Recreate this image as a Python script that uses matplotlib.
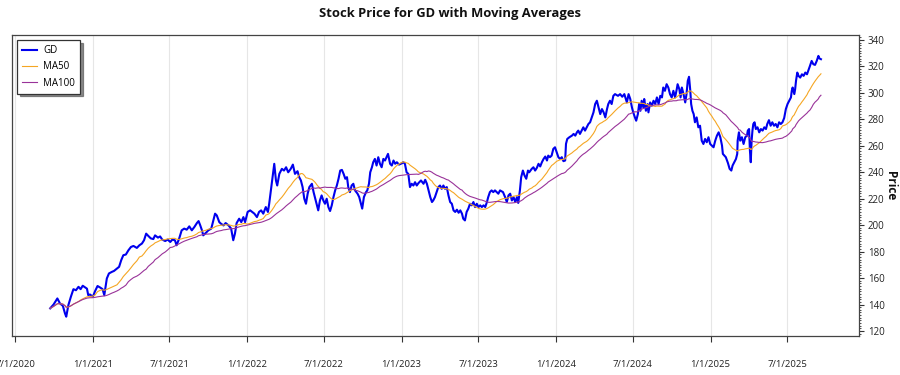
import matplotlib
matplotlib.use("Agg")
import matplotlib.pyplot as plt
from matplotlib import font_manager
from matplotlib.ticker import MultipleLocator
import pandas as pd

dates = [
    "2020-09-22", "2020-09-30", "2020-10-09", "2020-10-15", "2020-10-22", "2020-10-27", "2020-10-30",
    "2020-11-04", "2020-11-10", "2020-11-16", "2020-11-22", "2020-11-28", "2020-12-03", "2020-12-08",
    "2020-12-14", "2020-12-18", "2020-12-21", "2020-12-25", "2021-01-01", "2021-01-06", "2021-01-12",
    "2021-01-18", "2021-01-24", "2021-01-28", "2021-02-03", "2021-02-08", "2021-02-15", "2021-02-20",
    "2021-02-27", "2021-03-04", "2021-03-09", "2021-03-14", "2021-03-20", "2021-03-26", "2021-04-01",
    "2021-04-07", "2021-04-15", "2021-04-21", "2021-04-27", "2021-05-02", "2021-05-07", "2021-05-12",
    "2021-05-18", "2021-05-24", "2021-05-28", "2021-06-04", "2021-06-09", "2021-06-14", "2021-06-21",
    "2021-06-27", "2021-07-03", "2021-07-08", "2021-07-14", "2021-07-18", "2021-07-24", "2021-07-30",
    "2021-08-05", "2021-08-11", "2021-08-17", "2021-08-23", "2021-08-29", "2021-09-04", "2021-09-08",
    "2021-09-12", "2021-09-16", "2021-09-19", "2021-09-25", "2021-10-01", "2021-10-08", "2021-10-13",
    "2021-10-17", "2021-10-21", "2021-10-27", "2021-10-31", "2021-11-06", "2021-11-11", "2021-11-18",
    "2021-11-24", "2021-11-29", "2021-12-03", "2021-12-07", "2021-12-13", "2021-12-18", "2021-12-23",
    "2021-12-27", "2022-01-02", "2022-01-08", "2022-01-13", "2022-01-18", "2022-01-24", "2022-01-29",
    "2022-02-03", "2022-02-08", "2022-02-14", "2022-02-19", "2022-02-22", "2022-02-28", "2022-03-06",
    "2022-03-10", "2022-03-13", "2022-03-18", "2022-03-24", "2022-03-29", "2022-04-03", "2022-04-08",
    "2022-04-14", "2022-04-19", "2022-04-24", "2022-04-30", "2022-05-04", "2022-05-08", "2022-05-12",
    "2022-05-16", "2022-05-20", "2022-05-24", "2022-05-28", "2022-06-03", "2022-06-07", "2022-06-11",
    "2022-06-15", "2022-06-18", "2022-06-22", "2022-06-26", "2022-06-30", "2022-07-04", "2022-07-08",
    "2022-07-12", "2022-07-16", "2022-07-20", "2022-07-24", "2022-07-28", "2022-08-01", "2022-08-05",
    "2022-08-09", "2022-08-13", "2022-08-17", "2022-08-21", "2022-08-25", "2022-08-28", "2022-09-01",
    "2022-09-05", "2022-09-09", "2022-09-13", "2022-09-19", "2022-09-23", "2022-09-27", "2022-09-30",
    "2022-10-04", "2022-10-09", "2022-10-12", "2022-10-16", "2022-10-19", "2022-10-23", "2022-10-26",
    "2022-10-30", "2022-11-03", "2022-11-07", "2022-11-11", "2022-11-15", "2022-11-19", "2022-11-23",
    "2022-11-30", "2022-12-05", "2022-12-09", "2022-12-13", "2022-12-17", "2022-12-21", "2022-12-26",
    "2023-01-02", "2023-01-05", "2023-01-09", "2023-01-13", "2023-01-17", "2023-01-21", "2023-01-25",
    "2023-01-29", "2023-02-02", "2023-02-06", "2023-02-10", "2023-02-16", "2023-02-22", "2023-02-26",
    "2023-03-02", "2023-03-06", "2023-03-10", "2023-03-14", "2023-03-17", "2023-03-21", "2023-03-25",
    "2023-03-29", "2023-04-02", "2023-04-06", "2023-04-10", "2023-04-14", "2023-04-18", "2023-04-22",
    "2023-04-26", "2023-04-30", "2023-05-04", "2023-05-08", "2023-05-12", "2023-05-16", "2023-05-20",
    "2023-05-24", "2023-05-27", "2023-05-31", "2023-06-04", "2023-06-08", "2023-06-12", "2023-06-16",
    "2023-06-20", "2023-06-24", "2023-06-28", "2023-07-02", "2023-07-06", "2023-07-10", "2023-07-14",
    "2023-07-18", "2023-07-22", "2023-07-25", "2023-07-29", "2023-08-02", "2023-08-06", "2023-08-10",
    "2023-08-14", "2023-08-18", "2023-08-22", "2023-08-29", "2023-09-03", "2023-09-07", "2023-09-11",
    "2023-09-15", "2023-09-19", "2023-09-23", "2023-09-27", "2023-10-01", "2023-10-04", "2023-10-08",
    "2023-10-11", "2023-10-15", "2023-10-19", "2023-10-23", "2023-10-27", "2023-10-30", "2023-11-05",
    "2023-11-09", "2023-11-13", "2023-11-17", "2023-11-21", "2023-11-25", "2023-11-29", "2023-12-03",
    "2023-12-07", "2023-12-11", "2023-12-14", "2023-12-18", "2023-12-22", "2023-12-26", "2023-12-30",
    "2024-01-03", "2024-01-07", "2024-01-11", "2024-01-15", "2024-01-19", "2024-01-23", "2024-01-25",
    "2024-01-28", "2024-02-02", "2024-02-08", "2024-02-12", "2024-02-16", "2024-02-20", "2024-02-23",
    "2024-02-27", "2024-03-02", "2024-03-06", "2024-03-10", "2024-03-14", "2024-03-18", "2024-03-22",
    "2024-03-26", "2024-03-30", "2024-04-03", "2024-04-07", "2024-04-11", "2024-04-15", "2024-04-19",
    "2024-04-23", "2024-04-27", "2024-05-01", "2024-05-04", "2024-05-08", "2024-05-12", "2024-05-16",
    "2024-05-20", "2024-05-27", "2024-06-01", "2024-06-06", "2024-06-11", "2024-06-17", "2024-06-21",
    "2024-06-25", "2024-06-29", "2024-07-02", "2024-07-06", "2024-07-09", "2024-07-13", "2024-07-16",
    "2024-07-19", "2024-07-22", "2024-07-26", "2024-07-28", "2024-08-01", "2024-08-05", "2024-08-07",
    "2024-08-11", "2024-08-15", "2024-08-19", "2024-08-23", "2024-08-27", "2024-08-31", "2024-09-04",
    "2024-09-08", "2024-09-11", "2024-09-15", "2024-09-19", "2024-09-23", "2024-09-27", "2024-10-01",
    "2024-10-05", "2024-10-09", "2024-10-13", "2024-10-15", "2024-10-19", "2024-10-22", "2024-10-25",
    "2024-10-29", "2024-11-02", "2024-11-05", "2024-11-08", "2024-11-11", "2024-11-14", "2024-11-16",
    "2024-11-19", "2024-11-22", "2024-11-25", "2024-11-29", "2024-12-03", "2024-12-07", "2024-12-11",
    "2024-12-15", "2024-12-19", "2024-12-23", "2024-12-27", "2024-12-31", "2025-01-04", "2025-01-08",
    "2025-01-12", "2025-01-16", "2025-01-20", "2025-01-24", "2025-01-28", "2025-01-30", "2025-02-06",
    "2025-02-11", "2025-02-15", "2025-02-19", "2025-02-22", "2025-02-26", "2025-03-02", "2025-03-05",
    "2025-03-06", "2025-03-09", "2025-03-12", "2025-03-16", "2025-03-20", "2025-03-24", "2025-03-28",
    "2025-03-30", "2025-04-02", "2025-04-04", "2025-04-06", "2025-04-08", "2025-04-10", "2025-04-12",
    "2025-04-15", "2025-04-18", "2025-04-22", "2025-04-26", "2025-04-30", "2025-05-04", "2025-05-08",
    "2025-05-12", "2025-05-15", "2025-05-19", "2025-05-23", "2025-05-27", "2025-05-31", "2025-06-04",
    "2025-06-08", "2025-06-12", "2025-06-16", "2025-06-20", "2025-06-24", "2025-06-28", "2025-07-02",
    "2025-07-06", "2025-07-10", "2025-07-12", "2025-07-14", "2025-07-18", "2025-07-20", "2025-07-22",
    "2025-07-25", "2025-07-28", "2025-08-01", "2025-08-05", "2025-08-09", "2025-08-13", "2025-08-17",
    "2025-08-20", "2025-08-24", "2025-08-28", "2025-09-01", "2025-09-05", "2025-09-09", "2025-09-13",
    "2025-09-15", "2025-09-19",
]

prices = [
    137.1, 140.0, 144.6, 140.9, 139.0, 133.3, 130.8,
    139.5, 145.9, 151.6, 150.8, 153.4, 151.6, 154.2,
    152.9, 152.0, 147.1, 147.6, 145.9, 150.0, 154.0,
    152.9, 151.6, 147.1, 159.7, 163.5, 164.7, 165.4,
    167.2, 168.5, 173.5, 177.3, 177.8, 181.0, 183.5,
    184.3, 182.8, 184.8, 186.1, 188.6, 193.6, 191.9,
    190.0, 189.5, 192.3, 190.6, 191.5, 189.1, 188.0,
    189.1, 187.3, 189.1, 188.6, 184.8, 189.8, 196.1,
    197.4, 196.6, 199.1, 196.1, 198.6, 201.6, 203.1,
    199.8, 196.1, 192.3, 194.1, 196.1, 197.4, 203.6,
    208.7, 207.4, 202.3, 201.1, 199.8, 201.6, 199.8,
    197.4, 188.6, 193.6, 201.6, 204.9, 202.3, 206.1,
    202.3, 210.0, 211.2, 210.0, 208.7, 206.1, 210.0,
    211.2, 208.7, 213.7, 210.0, 216.2, 231.3, 246.4,
    233.8, 230.0, 238.8, 242.6, 241.3, 243.8, 240.0,
    242.6, 245.8, 238.8, 240.8, 236.3, 233.8, 228.8,
    220.0, 216.2, 223.8, 228.8, 231.3, 225.0, 220.0,
    215.0, 211.2, 218.7, 222.5, 218.7, 216.2, 220.0,
    213.7, 210.7, 215.0, 221.2, 226.3, 230.0, 235.1,
    241.3, 241.8, 238.8, 235.1, 236.3, 228.8, 225.0,
    230.0, 231.3, 226.3, 223.8, 221.2, 216.2, 212.5,
    221.2, 225.0, 226.3, 231.3, 240.0, 243.8, 247.6,
    250.1, 245.1, 251.4, 246.4, 243.8, 250.1, 248.9,
    253.9, 246.4, 245.1, 248.9, 246.4, 247.6, 245.8,
    246.8, 247.6, 246.4, 240.0, 238.8, 228.8, 231.3,
    230.0, 232.5, 230.0, 231.8, 233.8, 231.3, 234.3,
    231.3, 226.3, 221.2, 217.5, 218.7, 221.2, 225.0,
    228.8, 230.0, 227.5, 230.0, 227.5, 228.8, 222.5,
    217.5, 216.2, 211.2, 210.0, 211.7, 209.4, 211.2,
    208.7, 204.9, 203.6, 210.0, 212.5, 216.2, 215.0,
    217.5, 213.7, 216.2, 213.7, 215.0, 213.7, 215.0,
    213.7, 217.5, 221.2, 225.0, 226.3, 225.0, 226.3,
    225.0, 223.8, 226.3, 225.0, 221.2, 217.5, 222.5,
    223.8, 218.7, 221.2, 217.5, 221.2, 216.8, 226.3,
    236.3, 241.3, 237.5, 235.1, 241.3, 240.0, 242.6,
    243.8, 241.3, 243.3, 246.4, 244.4, 247.6, 250.1,
    251.9, 248.9, 252.6, 251.4, 252.6, 257.7, 258.9,
    255.1, 251.4, 250.1, 251.4, 248.4, 248.9, 261.5,
    265.2, 266.5, 267.7, 269.0, 267.7, 270.3, 271.5,
    269.0, 271.5, 274.0, 271.5, 274.0, 276.5, 277.8,
    281.5, 285.3, 291.6, 294.1, 289.1, 284.0, 287.8,
    285.3, 281.5, 287.8, 291.6, 294.1, 291.6, 297.8,
    299.1, 297.8, 299.1, 297.1, 299.1, 292.8, 299.1,
    295.4, 289.0, 285.3, 281.5, 279.0, 284.0, 291.6,
    286.5, 294.1, 289.0, 295.4, 286.5, 291.6, 285.3,
    292.8, 290.3, 294.1, 291.6, 296.6, 291.6, 297.8,
    296.6, 304.1, 301.6, 306.6, 304.1, 299.1, 296.6,
    301.6, 296.6, 302.9, 306.6, 302.9, 296.6, 304.1,
    299.1, 292.8, 299.1, 309.1, 312.2, 301.6, 291.6,
    286.5, 284.0, 277.8, 281.5, 274.0, 275.2, 263.9,
    261.4, 265.2, 262.7, 266.5, 261.4, 260.2, 258.9,
    263.9, 267.7, 270.2, 266.5, 260.2, 253.9, 251.4,
    247.0, 242.6, 241.3, 245.1, 247.6, 250.1, 253.9,
    263.9, 270.2, 263.9, 266.5, 261.4, 266.5, 267.7,
    271.5, 272.7, 256.5, 247.6, 263.9, 271.5, 276.5,
    277.8, 272.7, 274.0, 270.2, 272.7, 271.5, 274.0,
    272.7, 276.5, 279.4, 275.2, 277.8, 275.2, 276.5,
    274.0, 277.8, 276.5, 277.8, 281.0, 287.8, 291.6,
    294.1, 296.6, 301.6, 304.1, 299.1, 302.9, 309.1,
    315.4, 312.9, 311.6, 314.1, 312.9, 315.4, 314.1,
    316.7, 320.4, 324.2, 321.7, 321.2, 324.2, 328.0,
    326.2, 325.5,
]

ticker_name = "GD"
series_labels = ["GD", "MA50", "MA100"]
tick_dates = ["2020-07-01", "2021-01-01", "2021-07-01", "2022-01-01", "2022-07-01",
              "2023-01-01", "2023-07-01", "2024-01-01", "2024-07-01", "2025-01-01",
              "2025-07-01"]
tick_labels = ["7/1/2020", "1/1/2021", "7/1/2021", "1/1/2022", "7/1/2022", "1/1/2023",
               "7/1/2023", "1/1/2024", "7/1/2024", "1/1/2025", "7/1/2025"]

# moving averages (50 / 100 trading days ~ 72 / 145 calendar days)
s = pd.Series(prices, index=pd.to_datetime(dates))
ma50 = s.rolling("72D", min_periods=1).mean()
ma100 = s.rolling("145D", min_periods=1).mean()


def pick_font():
    for fam in ["Open Sans", "Noto Sans", "Lato", "Liberation Sans"]:
        try:
            path = font_manager.findfont(
                font_manager.FontProperties(family=fam, weight="bold"),
                fallback_to_default=False)
        except Exception:
            continue
        if "bold" in path.lower():
            return fam
    return "DejaVu Sans"


main_font = pick_font()
plt.rcParams["font.family"] = [main_font, "DejaVu Sans"]

fig = plt.figure(figsize=(9, 3.75), dpi=100)
ax = fig.add_axes([11.7 / 900, 1 - 336 / 375, (859 - 11.7) / 900, (336 - 35) / 375])

ax.plot(s.index, s.values, color="#0000EE", lw=1.5, label=series_labels[0], zorder=3)
ax.plot(ma50.index, ma50.values, color="#F5A623", lw=0.8, label=series_labels[1], zorder=4)
ax.plot(ma100.index, ma100.values, color="#993399", lw=0.8, label=series_labels[2], zorder=4)

ax.set_xlim(pd.Timestamp("2020-06-23"), pd.Timestamp("2025-12-18"))
ax.set_ylim(116.2, 343.8)

ax.set_xticks(pd.to_datetime(tick_dates))
ax.set_xticklabels(tick_labels)
ax.tick_params(axis="x", direction="out", length=4, width=0.8, color="#333333",
               labelsize=6.8, pad=13, labelcolor="#222222")
ax.grid(axis="x", color="#e6e6e6", lw=0.8, zorder=0)

ax.yaxis.tick_right()
ax.yaxis.set_major_locator(MultipleLocator(20))
ax.yaxis.set_minor_locator(MultipleLocator(2))
ax.tick_params(axis="y", which="major", direction="out", length=3.5, width=0.8,
               color="#333333", labelsize=7, pad=3, labelcolor="#222222")
ax.tick_params(axis="y", which="minor", direction="out", length=1.5, width=0.6,
               color="#333333")

for sp in ax.spines.values():
    sp.set_color("#444444")
    sp.set_linewidth(0.9)

fig.text(0.5, 1 - 14 / 375, "Stock Price for %s with Moving Averages" % ticker_name,
         ha="center", va="center", fontsize=9.4, fontweight="bold", color="#111111")
fig.text(890 / 900, 1 - 186 / 375, "Price", rotation=270, ha="center", va="center",
         fontsize=8.5, fontweight="bold", color="#111111")

leg = ax.legend(loc="upper left", bbox_to_anchor=(0.006, 0.983), borderaxespad=0,
                fontsize=7, frameon=True, fancybox=False,
                shadow={"ox": 2, "oy": -2, "color": "0.35", "alpha": 0.7},
                handlelength=1.6, handletextpad=0.6, borderpad=0.5, labelspacing=0.55)
leg.get_frame().set_edgecolor("#333333")
leg.get_frame().set_linewidth(0.9)

fig.savefig("out.png", dpi=100)
